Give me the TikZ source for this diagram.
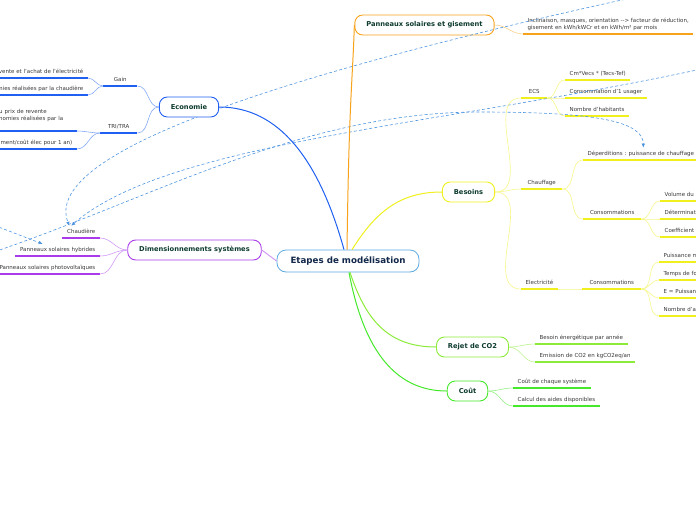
\documentclass[tikz,border=0pt]{standalone}
\usepackage{fontspec}
\setmainfont{DejaVu Sans}
\usepackage{tikz}
\usetikzlibrary{arrows.meta, calc}
\definecolor{CentBlue}{HTML}{5AA8E0}
\definecolor{CentText}{HTML}{12284A}
\definecolor{MainText}{HTML}{0D3B2E}
\definecolor{LeafText}{HTML}{383838}
\definecolor{EcoBlue}{HTML}{1F5FF2}
\definecolor{EcoLight}{HTML}{86A9F7}
\definecolor{PanOrange}{HTML}{F7A21B}
\definecolor{PanLight}{HTML}{FAD08A}
\definecolor{BesYellow}{HTML}{F0F01E}
\definecolor{BesLight}{HTML}{F6F68A}
\definecolor{DimPurple}{HTML}{A93BEB}
\definecolor{DimLight}{HTML}{D09AF5}
\definecolor{RejGreen}{HTML}{8CEB3A}
\definecolor{RejLight}{HTML}{BDF38E}
\definecolor{CoutGreen}{HTML}{45E82A}
\definecolor{CoutLight}{HTML}{94F084}
\definecolor{RelBlue}{HTML}{4D94DF}
\newcommand{\leaffont}{\fontsize{5.5pt}{7pt}\selectfont}
\newcommand{\branchfont}{\fontsize{6.7pt}{8pt}\selectfont\bfseries}
\newcommand{\rootfont}{\fontsize{8.7pt}{10pt}\selectfont\bfseries}

\begin{document}
\begin{tikzpicture}[
    x=1pt, y=-1pt,
    rootbox/.style={rectangle, rounded corners=9pt, draw=CentBlue, line width=0.8pt, fill=white, font=\rootfont, text=CentText, inner xsep=13.5pt, minimum height=22pt},
    mainbox/.style={rectangle, rounded corners=8pt, draw=#1, line width=0.9pt, fill=white, font=\branchfont, text=MainText, inner xsep=11.5pt, minimum height=20pt},
    leafbase/.style={font=\leaffont, text=LeafText, inner xsep=4.5pt, inner ysep=3pt, text depth=1.5pt, anchor=south west},
    leaf/.style={leafbase, append after command={(\tikzlastnode.south west) edge[draw=#1, line width=1.3pt] (\tikzlastnode.south east)}},
    cutleaf/.style={leafbase, append after command={(\tikzlastnode.south west) edge[draw=#1, line width=1.3pt] ($(\tikzlastnode.south west)+(50,0)$)}},
    branch/.style={draw=#1, line width=1pt},
    twig/.style={draw=#1, line width=0.6pt},
    rel/.style={draw=RelBlue, line width=0.6pt, dash pattern=on 3pt off 2.2pt, -{Latex[length=4pt,width=3.5pt]}}
]
    \useasboundingbox (0,0) rectangle (696,520);
    \clip (0,0) rectangle (696,520);

    % Root
    \node[rootbox] (cent) at (348,261) {Etapes de modélisation};
    \node[mainbox=PanOrange] (pan) at (424.5,25) {Panneaux solaires et gisement};

    % Economie leaves
    \node[leaf=EcoBlue, minimum width=34pt] (gain) at (103,86) {Gain};
    \node[leaf=EcoBlue, minimum width=37pt] (tri) at (100,133) {TRI/TRA};
    \node[leaf=EcoBlue, anchor=south east] (g1) at (88,78) {vente et l'achat de l'électricité};
    \node[leaf=EcoBlue, anchor=south east] (g2) at (88,95) {mies réalisées par la chaudière};
    \node[leaf=EcoBlue, text depth=, text width=73pt, align=left] (t1) at (-5.5,131) {u prix de revente\\nomies réalisées par la\\\mbox{}};
    \node[leaf=EcoBlue, anchor=south east] (t2) at (77,149) {ment/coût élec pour 1 an)};

    % Dimensionnements leaves
    \node[leaf=DimPurple, anchor=south east] (chaud) at (100,238) {Chaudière};
    \node[leaf=DimPurple, anchor=south east] (hyb) at (100,256) {Panneaux solaires hybrides};
    \node[leaf=DimPurple, anchor=south east] (photo) at (100,274) {Panneaux solaires photovoltaïques};

    % Gisement leaf
    \node[leaf=PanOrange, text depth=, align=left] (p1) at (523,34) {Inclinaison, masques, orientation -{}-> facteur de réduction,\\gisement en kWh/kWCr et en kWh/m² par mois};

    % Besoins leaves
    \node[leaf=BesYellow, minimum width=26pt] (ecs) at (521,98) {ECS};
    \node[leaf=BesYellow] (e1) at (565,80) {Cm*Vecs * (Tecs-Tef)};
    \node[leaf=BesYellow] (e2) at (565,98) {Consommation d'1 usager};
    \node[leaf=BesYellow] (e3) at (565,116) {Nombre d'habitants};
    \node[leaf=BesYellow, minimum width=41pt] (chf) at (521,189) {Chauffage};
    \node[leaf=BesYellow] (c1) at (583,160) {Déperditions : puissance de chauffage};
    \node[leaf=BesYellow, minimum width=58pt] (c2) at (583,219) {Consommations};
    \node[cutleaf=BesYellow] (c21) at (660,201) {Volume du};
    \node[cutleaf=BesYellow] (c22) at (660,219) {Déterminat};
    \node[cutleaf=BesYellow] (c23) at (660,237) {Coefficient};
    \node[leaf=BesYellow, minimum width=36pt] (elec) at (521,289) {Electricité};
    \node[leaf=BesYellow, minimum width=59pt] (el1) at (582,289) {Consommations};
    \node[cutleaf=BesYellow] (el11) at (659,262) {Puissance m};
    \node[cutleaf=BesYellow] (el12) at (659,280) {Temps de fo};
    \node[cutleaf=BesYellow] (el13) at (659,298) {E = Puissan};
    \node[cutleaf=BesYellow] (el14) at (659,316) {Nombre d'a};

    % CO2 and cost leaves
    \node[leaf=RejGreen] (r1) at (535,344) {Besoin énergétique par année};
    \node[leaf=RejGreen] (r2) at (535,362) {Emission de CO2 en kgCO2eq/an};
    \node[leaf=CoutGreen] (k1) at (513,388) {Coût de chaque système};
    \node[leaf=CoutGreen] (k2) at (513,406) {Calcul des aides disponibles};

    % Relations
    \coordinate (srcA) at (640,-4);
    \coordinate (srcB) at (715,66);
    \coordinate (srcC) at (-25,218);
    \coordinate (srcD) at (-15,255);
    \coordinate (viaD) at (480,112);
    \draw[rel] (srcA) .. controls (300,70) and (40,150) .. ([xshift=-12pt]chaud.north);
    \draw[rel] (srcB) .. controls (450,125) and (170,140) .. ([xshift=-10pt]chaud.north);
    \draw[rel] (srcC) -- ([xshift=-15pt]hyb.north);
    \draw[rel] (srcD) .. controls (150,200) and (300,112) .. (viaD) .. controls (600,112) and (643,122) .. ([xshift=2.5pt]c1.north);

    % Main topics
    \node[mainbox=EcoBlue] (eco) at (189,107) {Economie};
    \node[mainbox=BesYellow] (bes) at (468.5,192) {Besoins};
    \node[mainbox=DimPurple] (dim) at (194.5,250) {Dimensionnements systèmes};
    \node[mainbox=RejGreen] (rej) at (472.5,347) {Rejet de CO2};
    \node[mainbox=CoutGreen] (cout) at (467.5,391) {Coût};

    % Branches
    \draw[branch=EcoBlue] ($(cent.north)+(-4,0)$) .. controls +(-25,-90) and +(60,0) .. (eco.east);
    \draw[branch=PanOrange] ($(cent.north)+(-1,0)$) .. controls +(2,-150) and +(-2,60) .. (pan.west);
    \draw[branch=BesYellow] ($(cent.north)+(4,0)$) .. controls +(25,-40) and +(-40,0) .. (bes.west);
    \draw[branch=DimLight] (cent.west) -- (dim.east);
    \draw[branch=RejGreen] ($(cent.south)+(2,0)$) .. controls +(15,45) and +(-50,0) .. (rej.west);
    \draw[branch=CoutGreen] ($(cent.south)+(1,0)$) .. controls +(15,80) and +(-50,0) .. (cout.west);

    % Twigs
    \draw[twig=EcoLight] (eco.west) to[out=180,in=0] (gain.south east);
    \draw[twig=EcoLight] (eco.west) to[out=180,in=0] (tri.south east);
    \draw[twig=EcoLight] (gain.south west) to[out=180,in=0] (g1.south east);
    \draw[twig=EcoLight] (gain.south west) to[out=180,in=0] (g2.south east);
    \draw[twig=EcoLight] (tri.south west) to[out=180,in=0] (t1.south east);
    \draw[twig=EcoLight] (tri.south west) to[out=180,in=0] (t2.south east);
    \draw[twig=DimLight] (dim.west) to[out=180,in=0] (chaud.south east);
    \draw[twig=DimLight] (dim.west) to[out=180,in=0] (hyb.south east);
    \draw[twig=DimLight] (dim.west) to[out=180,in=0] (photo.south east);
    \draw[twig=PanLight] (pan.east) to[out=0,in=180] (p1.south west);
    \draw[twig=BesLight] (bes.east) to[out=0,in=180] (ecs.south west);
    \draw[twig=BesLight] (bes.east) to[out=0,in=180] (chf.south west);
    \draw[twig=BesLight] (bes.east) to[out=0,in=180] (elec.south west);
    \draw[twig=BesLight] (ecs.south east) to[out=0,in=180] (e1.south west);
    \draw[twig=BesLight] (ecs.south east) to[out=0,in=180] (e2.south west);
    \draw[twig=BesLight] (ecs.south east) to[out=0,in=180] (e3.south west);
    \draw[twig=BesLight] (chf.south east) to[out=0,in=180] (c1.south west);
    \draw[twig=BesLight] (chf.south east) to[out=0,in=180] (c2.south west);
    \draw[twig=BesLight] (c2.south east) to[out=0,in=180] (c21.south west);
    \draw[twig=BesLight] (c2.south east) to[out=0,in=180] (c22.south west);
    \draw[twig=BesLight] (c2.south east) to[out=0,in=180] (c23.south west);
    \draw[twig=BesLight] (elec.south east) to[out=0,in=180] (el1.south west);
    \draw[twig=BesLight] (el1.south east) to[out=0,in=180] (el11.south west);
    \draw[twig=BesLight] (el1.south east) to[out=0,in=180] (el12.south west);
    \draw[twig=BesLight] (el1.south east) to[out=0,in=180] (el13.south west);
    \draw[twig=BesLight] (el1.south east) to[out=0,in=180] (el14.south west);
    \draw[twig=RejLight] (rej.east) to[out=0,in=180] (r1.south west);
    \draw[twig=RejLight] (rej.east) to[out=0,in=180] (r2.south west);
    \draw[twig=CoutLight] (cout.east) to[out=0,in=180] (k1.south west);
    \draw[twig=CoutLight] (cout.east) to[out=0,in=180] (k2.south west);

\end{tikzpicture}
\end{document}
